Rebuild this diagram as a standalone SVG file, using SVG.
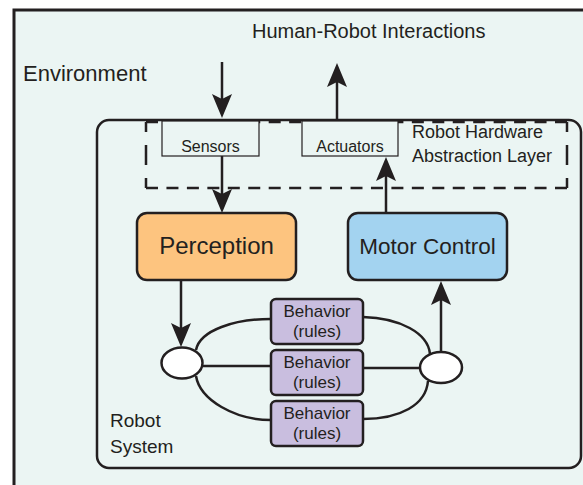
<svg xmlns="http://www.w3.org/2000/svg" width="583" height="485" viewBox="0 0 583 485">
  <style>
    text { font-family: "Liberation Sans", Arial, sans-serif; fill: #231f20; }
    .frame { fill: #ebf5f3; stroke: #231f20; }
    .wire { fill: none; stroke: #231f20; stroke-width: 2.5; }
    .arrow { fill: none; stroke: #231f20; stroke-width: 2.5; marker-end: url(#head); }
    .dash { fill: none; stroke: #231f20; stroke-width: 2.5; }
    .dash-h { stroke-dasharray: 12 8.45; }
    .dash-v { stroke-dasharray: 10 13 20 13 10; }
    .hw { fill: #ebf5f3; stroke: #231f20; stroke-width: 1.2; }
    .module { stroke: #231f20; stroke-width: 2.5; }
    .behavior { fill: #c9bedf; stroke: #231f20; stroke-width: 2.5; }
    .junction { fill: #ffffff; stroke: #231f20; stroke-width: 2.5; }
  </style>
  <defs>
    <marker id="head" viewBox="0 -10 24 20" refX="14" refY="0" markerWidth="24" markerHeight="20" markerUnits="userSpaceOnUse" orient="auto">
      <path d="M0,-10 L24,0 L0,10 L5,0 Z" fill="#231f20"/>
    </marker>
  </defs>

  <rect width="583" height="485" fill="#ffffff"/>

  <!-- environment -->
  <g id="environment">
    <rect class="frame" x="14" y="10" width="620" height="520" stroke-width="3"/>
    <text x="23" y="81" font-size="22">Environment</text>
  </g>

  <text id="hri-label" x="252" y="38" font-size="20">Human-Robot Interactions</text>

  <!-- robot system container -->
  <g id="robot-system">
    <rect class="frame" x="97" y="120" width="484" height="348" rx="12" stroke-width="2.5"/>
    <text x="110" y="427" font-size="19">Robot</text>
    <text x="110" y="453" font-size="19">System</text>
  </g>

  <!-- hardware abstraction layer: each side dashed so the corners stay solid -->
  <g id="hal">
    <path class="dash dash-h" d="M146,122 H567"/>
    <path class="dash dash-h" d="M146,188 H567"/>
    <path class="dash dash-v" d="M146,122 V188"/>
    <path class="dash dash-v" d="M567,122 V188"/>
    <text x="412" y="138" font-size="18">Robot Hardware</text>
    <text x="412" y="162" font-size="18">Abstraction Layer</text>
  </g>

  <g id="sensors">
    <rect class="hw" x="162" y="121" width="97" height="35"/>
    <text x="210.5" y="152" font-size="16" text-anchor="middle">Sensors</text>
  </g>

  <g id="actuators">
    <rect class="hw" x="302" y="121" width="96" height="35"/>
    <text x="350" y="152" font-size="16" text-anchor="middle">Actuators</text>
  </g>

  <!-- connectors -->
  <g id="connectors">
    <line class="arrow" x1="222" y1="62" x2="222" y2="108"/>
    <line class="arrow" x1="337" y1="120" x2="337" y2="73"/>
    <line class="arrow" x1="222" y1="156" x2="222" y2="203"/>
    <line class="arrow" x1="386" y1="213" x2="386" y2="167"/>
    <line class="arrow" x1="181" y1="280" x2="181" y2="337"/>
    <line class="arrow" x1="441" y1="352" x2="441" y2="291"/>
    <path class="wire" d="M196,350 C200,330 235,319 271,319"/>
    <path class="wire" d="M363,317 C400,318 428,333 430,354"/>
    <path class="wire" d="M202,366 L271,366"/>
    <path class="wire" d="M363,368 L421,368"/>
    <path class="wire" d="M196,376 C200,400 235,420 271,420"/>
    <path class="wire" d="M363,419 C400,419 426,405 428,381"/>
  </g>

  <g id="perception">
    <rect class="module" x="137" y="213" width="159" height="67" rx="10" fill="#fdc47f"/>
    <text x="216.5" y="254" font-size="24" text-anchor="middle">Perception</text>
  </g>

  <g id="motor-control">
    <rect class="module" x="348" y="213" width="159" height="67" rx="10" fill="#a3d3f0"/>
    <text x="427.5" y="254" font-size="22.5" text-anchor="middle">Motor Control</text>
  </g>

  <g id="behavior-1">
    <rect class="behavior" x="271" y="299" width="92" height="45" rx="5"/>
    <text x="317" y="317" font-size="17" text-anchor="middle">Behavior</text>
    <text x="317" y="337" font-size="17" text-anchor="middle">(rules)</text>
  </g>

  <g id="behavior-2">
    <rect class="behavior" x="271" y="350" width="92" height="45" rx="5"/>
    <text x="317" y="368" font-size="17" text-anchor="middle">Behavior</text>
    <text x="317" y="388" font-size="17" text-anchor="middle">(rules)</text>
  </g>

  <g id="behavior-3">
    <rect class="behavior" x="271" y="401" width="92" height="45" rx="5"/>
    <text x="317" y="419" font-size="17" text-anchor="middle">Behavior</text>
    <text x="317" y="439" font-size="17" text-anchor="middle">(rules)</text>
  </g>

  <g id="input-junction">
    <ellipse class="junction" cx="182" cy="363" rx="20.5" ry="15.5"/>
  </g>

  <g id="output-junction">
    <ellipse class="junction" cx="441" cy="367.5" rx="21" ry="15.5"/>
  </g>
</svg>
